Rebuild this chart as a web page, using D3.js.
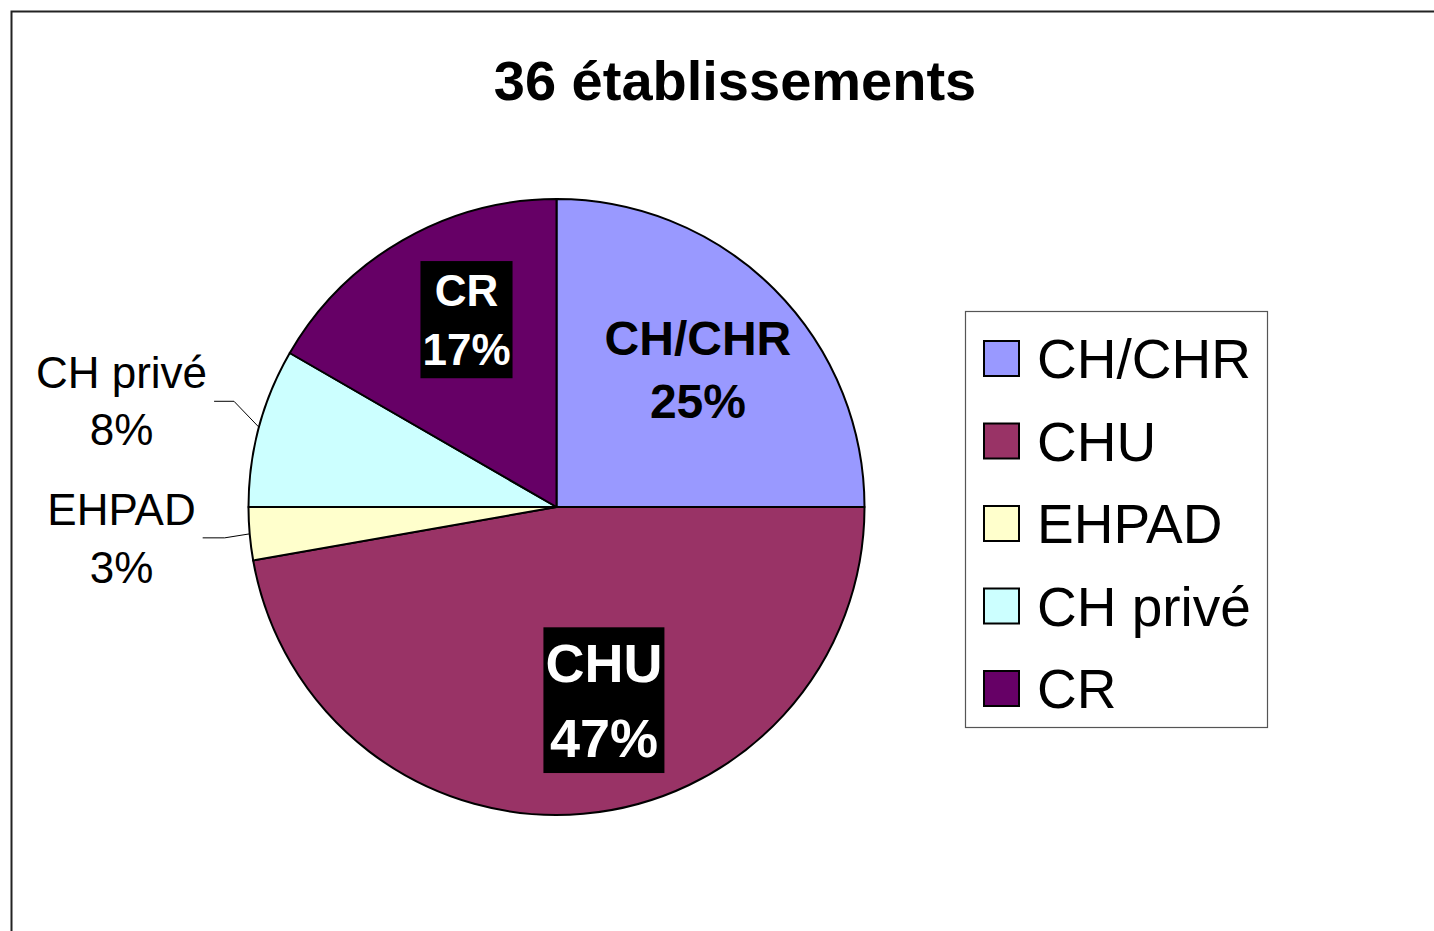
<!DOCTYPE html>
<html>
<head>
<meta charset="utf-8">
<script src="https://cdn.jsdelivr.net/npm/d3@7"></script>
<style>
  body { margin: 0; background: #fff; }
  svg text { font-family: "Liberation Sans", Arial, sans-serif; }
</style>
</head>
<body>
<svg id="chart" width="1434" height="931"></svg>
<script>
const title = "36 établissements";
const categories = ["CH/CHR", "CHU", "EHPAD", "CH privé", "CR"];
const counts = [9, 17, 1, 3, 6];
const colors = ["#9999FF", "#993366", "#FFFFCC", "#CCFFFF", "#660066"];

// how each slice gets labelled (inside plain / inside boxed / outside with leader)
const labelKind = ["inside", "boxed", "outside", "outside", "boxed"];
const labelSize = [48, 54, 44, 44, 44];
const labelGap = [1.32, 1.38, 1.32, 1.3, 1.34];
const labelShift = [[0, 4], [30, -6], [0, 4], [0, -26], [10, -14]];

const width = 1434;
const height = 931;
const cx = 556.5;
const cy = 507;
const radius = 308;

const svg = d3.select("#chart");

// frame, only top and left edges are visible
svg
  .append("rect")
  .attr("x", 11.5)
  .attr("y", 11.5)
  .attr("width", width)
  .attr("height", height)
  .attr("fill", "none")
  .attr("stroke", "#222")
  .attr("stroke-width", 2);

svg
  .append("text")
  .text(title)
  .attr("x", 735)
  .attr("y", 100)
  .attr("text-anchor", "middle")
  .attr("font-size", 56)
  .attr("font-weight", "bold");

const data = categories.map((name, i) => ({
  name,
  value: counts[i],
  color: colors[i],
  kind: labelKind[i],
  size: labelSize[i],
  gap: labelGap[i],
  shift: labelShift[i],
}));
const total = d3.sum(counts);
const pct = d3.format(".0%");

const pie = d3.pie().value((d) => d.value).sort(null);
const arcs = pie(data);
const arc = d3.arc().innerRadius(0).outerRadius(radius);
const labelArc = d3.arc().innerRadius(200).outerRadius(200);

const g = svg.append("g").attr("transform", `translate(${cx}, ${cy})`);

g.selectAll(".slice")
  .data(arcs)
  .join("path")
  .attr("class", "slice")
  .attr("d", arc)
  .attr("fill", (d) => d.data.color)
  .attr("stroke", "#000")
  .attr("stroke-width", 2)
  .attr("stroke-linejoin", "round");

// labels inside the pie
arcs
  .filter((d) => d.data.kind !== "outside")
  .forEach((d) => {
    const [x0, y0] = labelArc.centroid(d);
    const fs = d.data.size;
    const gap = fs * d.data.gap;
    const cap = fs * 0.716;
    const x = x0 + d.data.shift[0];
    const yc = y0 + d.data.shift[1];
    const b1 = yc - gap / 2 + cap / 2;
    const boxed = d.data.kind === "boxed";
    const lg = g.append("g");
    const t = lg
      .append("text")
      .attr("text-anchor", "middle")
      .attr("font-size", fs)
      .attr("font-weight", "bold")
      .attr("fill", boxed ? "#fff" : "#000");
    t.append("tspan").attr("x", x).attr("y", b1).text(d.data.name);
    t.append("tspan").attr("x", x).attr("y", b1 + gap).text(pct(d.data.value / total));
    if (boxed) {
      const bb = t.node().getBBox();
      lg.insert("rect", "text")
        .attr("x", bb.x - 2)
        .attr("y", b1 - fs - 1)
        .attr("width", bb.width + 4)
        .attr("height", gap + fs * 1.3 + 1)
        .attr("fill", "#000");
    }
  });

// labels outside with leader lines
arcs
  .filter((d) => d.data.kind === "outside")
  .forEach((d) => {
    const mid = (d.startAngle + d.endAngle) / 2;
    const ex = radius * Math.sin(mid);
    const ey = -radius * Math.cos(mid);
    const elbowX = ex - 25;
    const elbowY = ey + d.data.shift[1];
    const fs = d.data.size;
    const gap = fs * d.data.gap;
    const lx = -radius - 127;
    const t = g
      .append("text")
      .attr("text-anchor", "middle")
      .attr("font-size", fs)
      .attr("fill", "#000");
    t.append("tspan").attr("x", lx).attr("y", elbowY - 13).text(d.data.name);
    t.append("tspan").attr("x", lx).attr("y", elbowY - 13 + gap).text(pct(d.data.value / total));
    const bb = t.node().getBBox();
    g.append("polyline")
      .attr("points", [[bb.x + bb.width + 7, elbowY], [elbowX, elbowY], [ex, ey]].join(" "))
      .attr("fill", "none")
      .attr("stroke", "#000")
      .attr("stroke-width", 1);
  });

// legend
const legend = svg.append("g").attr("transform", "translate(965, 311)");
legend
  .append("rect")
  .attr("x", 0.5)
  .attr("y", 0.5)
  .attr("width", 302)
  .attr("height", 416)
  .attr("fill", "#fff")
  .attr("stroke", "#555")
  .attr("stroke-width", 1.2);

const legendY = d3.scalePoint().domain(categories).range([67, 397]);

const item = legend
  .selectAll(".item")
  .data(data)
  .join("g")
  .attr("class", "item")
  .attr("transform", (d) => `translate(0, ${legendY(d.name)})`);

item
  .append("rect")
  .attr("x", 19)
  .attr("y", -37)
  .attr("width", 35)
  .attr("height", 35)
  .attr("fill", (d) => d.color)
  .attr("stroke", "#000")
  .attr("stroke-width", 2);

item
  .append("text")
  .attr("x", 72)
  .attr("y", 0)
  .attr("font-size", 55)
  .text((d) => d.name);
</script>
</body>
</html>
